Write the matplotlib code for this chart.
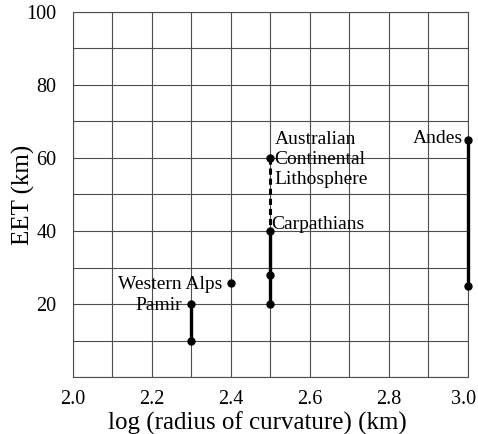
import matplotlib.pyplot as plt
import matplotlib.transforms as mtransforms
import numpy as np

plt.rcParams['font.family'] = ['Liberation Serif', 'DejaVu Serif']

# vertical ranges (log radius, EET min, EET max)
pamir_x = [2.3, 2.3]
pamir_y = [10, 20]
alps_x = [2.4]
alps_y = [25.7]
carp_x = [2.5, 2.5, 2.5]
carp_y = [20, 28, 40]
aus_x = [2.498, 2.498]
aus_y = [28, 60]
andes_x = [3.0, 3.0]
andes_y = [25, 65]

xticks = [2.0, 2.2, 2.4, 2.6, 2.8, 3.0]
yticks = [20, 40, 60, 80, 100]

fig = plt.figure(figsize=(4.78, 4.34), dpi=100)
ax = fig.add_axes([0.1527, 0.1313, 0.8263, 0.8411])

ax.set_xlim(2.0, 3.0)
ax.set_ylim(0, 100)
ax.set_xticks(np.arange(2.0, 3.01, 0.1), minor=True)
ax.set_yticks(np.arange(0, 101, 10), minor=True)
ax.set_xticks(xticks)
ax.set_xticklabels(["%.1f" % v for v in xticks])
ax.set_yticks(yticks)
ax.grid(True, which='both', color='0.3', lw=0.8)
ax.tick_params(which='both', length=0, labelsize=14.5)
ax.tick_params(axis='y', pad=12)
ax.tick_params(axis='x', pad=9)
for s in ax.spines.values():
    s.set_color('0.3')
    s.set_linewidth(0.8)

# last x label sits a bit left in the original
last = ax.get_xticklabels()[-1]
last.set_transform(last.get_transform() +
                   mtransforms.ScaledTranslation(-4 / 100, 0, fig.dpi_scale_trans))

ax.plot(aus_x, aus_y, color='k', lw=2.2, ls=(0, (2, 1.3)), zorder=3)
kw = dict(color='k', lw=2.4, marker='o', ms=5, zorder=4, clip_on=False)
ax.plot(pamir_x, pamir_y, **kw)
ax.plot(alps_x, alps_y, ls='none', marker='o', ms=5, color='k', zorder=4)
ax.plot(carp_x[:2], carp_y[:2], **kw)
ax.plot(carp_x[1:], carp_y[1:], color='k', lw=2.4, zorder=4)
ax.plot([carp_x[2]], [carp_y[2]], 'ko', ms=5, zorder=4)
ax.plot([aus_x[1]], [aus_y[1]], 'ko', ms=5, zorder=4)
ax.plot(andes_x, andes_y, **kw)

fs = 14
ax.text(2.51, 59.6, "Australian\nContinental\nLithosphere", fontsize=fs,
        ha='left', va='center', linespacing=1.24)
ax.text(2.502, 41.7, "Carpathians", fontsize=fs, ha='left', va='center')
ax.text(2.987, 65.3, "Andes", fontsize=fs, ha='right', va='center')
ax.text(2.378, 25.4, "Western Alps", fontsize=fs, ha='right', va='center')
ax.text(2.277, 19.5, "Pamir", fontsize=fs, ha='right', va='center')

ax.set_xlabel("log (radius of curvature) (km)", fontsize=18)
ax.xaxis.set_label_coords(0.466, -0.094)
ax.set_ylabel("EET (km)", fontsize=18)
ax.yaxis.set_label_coords(-0.095, 0.5)

fig.savefig("out.png", dpi=100)
